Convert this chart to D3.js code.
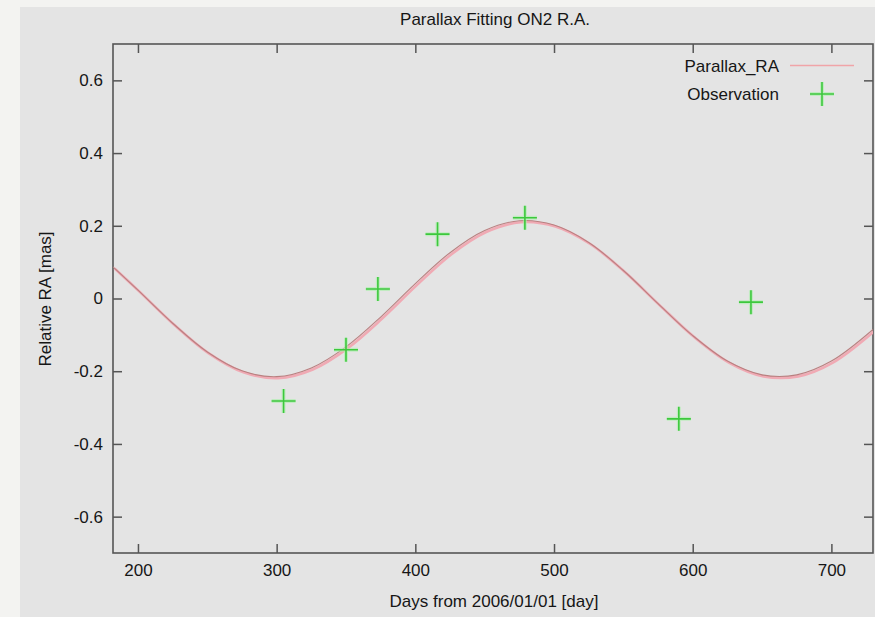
<!DOCTYPE html>
<html>
<head>
<meta charset="utf-8">
<script src="https://cdn.jsdelivr.net/npm/d3@7"></script>
<style>
  html, body { margin: 0; padding: 0; background: #f3f3f1; }
  svg { display: block; }
  text { font-family: "Liberation Sans", Arial, sans-serif; fill: #161616; }
</style>
</head>
<body>
<svg id="chart" width="875" height="617"></svg>
<script>
// ---- data ----
const title = "Parallax Fitting ON2 R.A.";
const xLabel = "Days from 2006/01/01 [day]";
const yLabel = "Relative RA [mas]";
const xTicks = [200, 300, 400, 500, 600, 700];
const yTicks = [-0.6, -0.4, -0.2, 0, 0.2, 0.4, 0.6];
const yTickLabels = ["-0.6", "-0.4", "-0.2", "0", "0.2", "0.4", "0.6"];
const xDomain = [182, 730];
const yDomain = [-0.7, 0.7];

// fitted parallax curve
const fitDays   = [182, 200, 225, 250, 275, 300, 325, 350, 375, 400, 425, 450, 475, 500, 525, 550, 575, 600, 625, 650, 675, 700, 730];
const fitValues = [0.087, 0.023, -0.068, -0.147, -0.199, -0.215, -0.191, -0.133, -0.051, 0.041, 0.126, 0.187, 0.214, 0.202, 0.154, 0.077, -0.014, -0.102, -0.172, -0.210, -0.210, -0.172, -0.085];

// observations
const obsDays   = [305, 350, 373, 416, 479, 590, 642];
const obsValues = [-0.282, -0.141, 0.026, 0.177, 0.222, -0.331, -0.010];

const seriesNames = ["Parallax_RA", "Observation"];

// ---- drawing ----
const svg = d3.select("#chart");
const W = 875, H = 617;
const plot = { left: 113, top: 44, right: 873, bottom: 553 };

svg.append("rect").attr("x", 0).attr("y", 0).attr("width", W).attr("height", H).attr("fill", "#f3f3f1");
svg.append("rect").attr("x", 20).attr("y", 7).attr("width", W - 20).attr("height", H - 7).attr("fill", "#e4e4e4");

const x = d3.scaleLinear().domain(xDomain).range([plot.left, plot.right]);
const y = d3.scaleLinear().domain(yDomain).range([plot.bottom, plot.top]);

const frameColor = "#555";
const tickLen = 9;
const g = svg.append("g");

svg.append("clipPath").attr("id", "clip").append("rect")
  .attr("x", plot.left).attr("y", plot.top)
  .attr("width", plot.right - plot.left).attr("height", plot.bottom - plot.top);

const fmtY = d => yTickLabels[yTicks.indexOf(d)];
const axB = d3.axisBottom(x).tickValues(xTicks).tickSize(-tickLen).tickPadding(11).tickFormat(d3.format("d"));
const axT = d3.axisTop(x).tickValues(xTicks).tickSize(-tickLen).tickFormat("");
const axL = d3.axisLeft(y).tickValues(yTicks).tickSize(-tickLen).tickPadding(10).tickFormat(fmtY);
const axR = d3.axisRight(y).tickValues(yTicks).tickSize(-tickLen).tickFormat("");

function styleAxis(sel) {
  sel.select(".domain").remove();
  sel.selectAll(".tick line").attr("stroke", frameColor).attr("stroke-width", 1.5);
  sel.selectAll(".tick text").attr("font-size", 17).attr("fill", "#161616")
     .style("font-family", "'Liberation Sans', Arial, sans-serif");
}
g.append("g").attr("transform", `translate(0,${plot.bottom})`).call(axB).call(styleAxis);
g.append("g").attr("transform", `translate(0,${plot.top})`).call(axT).call(styleAxis);
g.append("g").attr("transform", `translate(${plot.left},0)`).call(axL).call(styleAxis);
g.append("g").attr("transform", `translate(${plot.right},0)`).call(axR).call(styleAxis);

g.append("rect").attr("x", plot.left).attr("y", plot.top)
  .attr("width", plot.right - plot.left).attr("height", plot.bottom - plot.top)
  .attr("fill", "none").attr("stroke", frameColor).attr("stroke-width", 1.6);

// fit curve
const fitData = fitDays.map((d, i) => ({ d, v: fitValues[i] }));
const line = d3.line().x(p => x(p.d)).y(p => y(p.v)).curve(d3.curveCatmullRom.alpha(0.5));
const curveG = svg.append("g").attr("clip-path", "url(#clip)");
curveG.append("path").datum(fitData).attr("d", line)
  .attr("fill", "none").attr("stroke", "#f0aab4").attr("stroke-width", 2.6)
  .attr("transform", "translate(1.5,1.5)");
curveG.append("path").datum(fitData).attr("d", line)
  .attr("fill", "none").attr("stroke", "#b98080").attr("stroke-width", 1.1);

// observation crosses
const cs = 12;
function cross(sel, cx, cy) {
  sel.append("path")
    .attr("d", `M${cx - cs},${cy}H${cx + cs}M${cx},${cy - cs}V${cy + cs}`)
    .attr("stroke", "#a8f0a8").attr("stroke-width", 4).attr("fill", "none").attr("opacity", 0.6);
  sel.append("path")
    .attr("d", `M${cx - cs},${cy}H${cx + cs}M${cx},${cy - cs}V${cy + cs}`)
    .attr("stroke", "#3cc83c").attr("stroke-width", 1.6).attr("fill", "none");
}
const obsG = svg.append("g");
obsDays.forEach((d, i) => cross(obsG, x(d), y(obsValues[i])));

// legend
const leg = svg.append("g");
leg.append("text").attr("x", 779).attr("y", 66).attr("text-anchor", "end")
  .attr("dominant-baseline", "central").attr("font-size", 17).text(seriesNames[0]);
leg.append("line").attr("x1", 790).attr("x2", 854).attr("y1", 65.5).attr("y2", 65.5)
  .attr("stroke", "#f0a4a8").attr("stroke-width", 1.6);
leg.append("text").attr("x", 779).attr("y", 94).attr("text-anchor", "end")
  .attr("dominant-baseline", "central").attr("font-size", 17).text(seriesNames[1]);
cross(leg, 822, 94);

// title & labels
svg.append("text").attr("x", 495).attr("y", 19).attr("text-anchor", "middle")
  .attr("dominant-baseline", "central").attr("font-size", 17).text(title);
svg.append("text").attr("x", 494).attr("y", 601).attr("text-anchor", "middle")
  .attr("dominant-baseline", "central").attr("font-size", 17).text(xLabel);
svg.append("text").attr("transform", "translate(45,299) rotate(-90)").attr("text-anchor", "middle")
  .attr("dominant-baseline", "central").attr("font-size", 17).text(yLabel);
</script>
</body>
</html>
